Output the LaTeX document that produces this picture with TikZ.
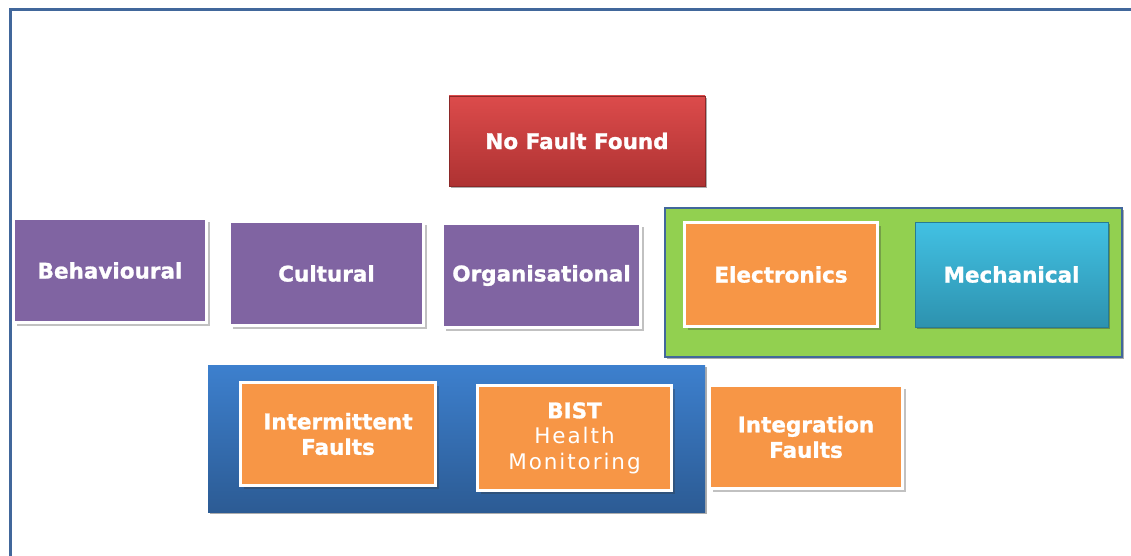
\documentclass[tikz,border=0pt]{standalone}
\usepackage{fontspec}
\setsansfont{DejaVu Sans}[BoldFeatures={FakeBold=1.2}]
\usetikzlibrary{shadows}
\definecolor{frameblue}{HTML}{41679B}
\definecolor{purp}{HTML}{8064A2}
\definecolor{orng}{HTML}{F79646}
\definecolor{grn}{HTML}{92D050}
\definecolor{redtop}{HTML}{DC4B4B}
\definecolor{redbot}{HTML}{AE3232}
\definecolor{bluetop}{HTML}{3D80CE}
\definecolor{bluebot}{HTML}{2C5B94}
\definecolor{cyantop}{HTML}{42C1E3}
\definecolor{cyanbot}{HTML}{2D92AF}
\newcommand\lighttxt[1]{{\mdseries\addfontfeature{LetterSpace=9}#1}}
\tikzset{
  lbl/.style={text=white, font=\sffamily\bfseries\fontsize{21.5}{25.5}\selectfont, align=center, inner sep=0pt},
  shd/.style={drop shadow={shadow xshift=2.2pt, shadow yshift=-2.2pt, opacity=0.4, fill=black!80}},
  wshd/.style={drop shadow={shadow xshift=3.4pt, shadow yshift=-3.4pt, opacity=0.3, fill=black!80}},
  wbox/.style={lbl, wshd, draw=white, line width=3pt, minimum width=#1, minimum height=104pt},
  wbox/.default=193pt,
}
\begin{document}
\begin{tikzpicture}[x=1pt, y=-1pt]
\useasboundingbox (0,0) rectangle (1131,556);
\coordinate (fa) at (10,556);
\coordinate (fb) at (10,10);
\coordinate (fc) at (1131,10);
\draw[frameblue, line width=3pt] (fa) -- (fb) -- (fc);

% top
\node[lbl, shd, minimum width=256pt, minimum height=90pt, top color=redtop, bottom color=redbot, draw=redbot!80!black, line width=0.6pt] (nff) at (577,141) {No Fault Found};

% purple row
\node[wbox, fill=purp] (beh) at (110,270.5) {Behavioural};
\node[wbox=194pt, fill=purp] (cul) at (326.5,273.5) {Cultural};
\node[wbox=198pt, fill=purp] (org) at (541.5,275.5) {Organisational};

% green group
\node[shd, fill=grn, draw=frameblue, line width=2pt, minimum width=457pt, minimum height=149pt] (grp1) at (893.5,282.5) {};
\node[wbox, fill=orng] (elec) at (781,274.5) {Electronics};
\node[lbl, shd, minimum width=193pt, minimum height=105pt, top color=cyantop, bottom color=cyanbot, draw=cyanbot!85!black, line width=0.6pt] (mech) at (1011.5,274.5) {Mechanical};

% blue group
\node[shd, top color=bluetop, bottom color=bluebot, minimum width=497pt, minimum height=147pt] (grp2) at (456.5,438.5) {};
\node[wbox=195pt, fill=orng, minimum height=103pt] (inter) at (338,434) {Intermittent\\Faults};
\node[wbox=194pt, fill=orng, minimum height=105pt] (bist) at (574.5,438) {BIST\\\lighttxt{Health}\\\lighttxt{Monitoring}};
\node[wbox, fill=orng, minimum height=103pt] (integ) at (806,437) {Integration\\Faults};
\end{tikzpicture}
\end{document}
